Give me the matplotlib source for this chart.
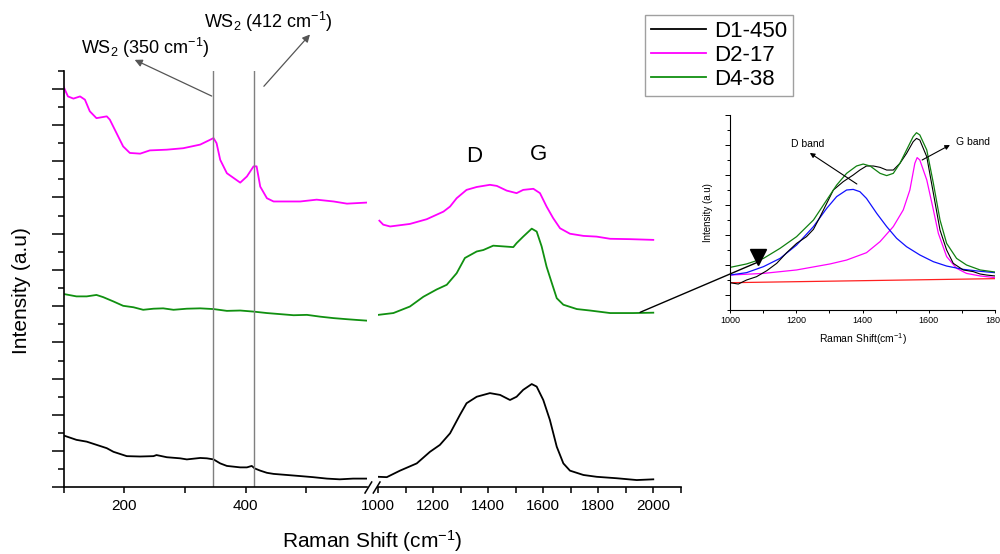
import matplotlib
matplotlib.use("Agg")
import matplotlib.pyplot as plt
from matplotlib.lines import Line2D
from matplotlib.patches import ConnectionPatch
from matplotlib.ticker import MultipleLocator, FixedLocator, NullFormatter

plt.rcParams['font.family'] = ['Liberation Sans', 'DejaVu Sans']
plt.rcParams['mathtext.default'] = 'regular'

# ---------------- data (low-wavenumber segment) ----------------
d1_low_x = [100, 121, 138, 149, 160, 171, 182, 193, 204, 226, 248, 253, 270, 292, 303, 325, 336, 347,
            358, 369, 380, 391, 402, 410, 415, 424, 435, 446, 468, 490, 511, 534, 555, 577, 600]
d1_low_y = [1.43, 1.31, 1.26, 1.20, 1.14, 1.08, 0.98, 0.92, 0.86, 0.85, 0.86, 0.89, 0.83, 0.80, 0.77, 0.81, 0.80, 0.77,
            0.66, 0.59, 0.57, 0.55, 0.55, 0.59, 0.52, 0.46, 0.40, 0.37, 0.34, 0.31, 0.28, 0.24, 0.22, 0.24, 0.24]

d2_low_x = [100, 107, 116, 127, 135, 143, 154, 171, 176, 187, 198, 209, 226, 242, 270, 297, 325, 341, 347,
            352, 358, 369, 380, 391, 402, 413, 418, 424, 435, 446, 490, 517, 545, 567, 600]
d2_low_y = [11.05, 10.79, 10.73, 10.79, 10.70, 10.38, 10.19, 10.24, 10.15, 9.78, 9.41, 9.23, 9.21, 9.30, 9.32,
            9.36, 9.46, 9.59, 9.64, 9.50, 9.04, 8.67, 8.54, 8.41, 8.58, 8.86, 8.86, 8.30, 7.98, 7.89, 7.89, 7.94,
            7.89, 7.83, 7.86]

d4_low_x = [102, 121, 138, 154, 165, 182, 198, 215, 231, 248, 264, 281, 303, 325, 347, 369, 391, 413, 435,
            457, 479, 501, 523, 545, 567, 583, 600]
d4_low_y = [5.33, 5.27, 5.27, 5.31, 5.25, 5.13, 5.01, 4.97, 4.90, 4.93, 4.94, 4.90, 4.93, 4.94, 4.92, 4.87,
            4.88, 4.85, 4.81, 4.78, 4.75, 4.76, 4.71, 4.67, 4.64, 4.62, 4.60]

# ---------------- data (high-wavenumber segment) ----------------
d1_high_x = [1001, 1032, 1080, 1141, 1189, 1225, 1262, 1298, 1322, 1359, 1407, 1444, 1480, 1504, 1528, 1559,
             1577, 1601, 1625, 1650, 1674, 1698, 1747, 1795, 1868, 1941, 2001]
d1_high_y = [0.29, 0.28, 0.46, 0.66, 0.98, 1.17, 1.49, 2.00, 2.32, 2.50, 2.60, 2.55, 2.41, 2.50, 2.69, 2.85,
             2.78, 2.41, 1.86, 1.12, 0.66, 0.46, 0.34, 0.29, 0.25, 0.20, 0.22]

d2_high_x = [1005, 1019, 1044, 1116, 1177, 1238, 1262, 1286, 1322, 1359, 1407, 1432, 1468, 1504, 1528, 1565,
             1589, 1613, 1637, 1662, 1698, 1747, 1795, 1844, 1916, 2001]
d2_high_y = [7.36, 7.25, 7.20, 7.27, 7.40, 7.61, 7.75, 7.98, 8.21, 8.29, 8.35, 8.32, 8.19, 8.12, 8.21, 8.24,
             8.12, 7.75, 7.43, 7.15, 7.00, 6.94, 6.92, 6.86, 6.85, 6.83]

d4_high_x = [1001, 1056, 1116, 1165, 1213, 1250, 1286, 1316, 1359, 1383, 1419, 1456, 1492, 1504, 1528, 1559,
             1577, 1595, 1613, 1632, 1650, 1674, 1723, 1771, 1844, 1928, 2001]
d4_high_y = [4.76, 4.81, 4.99, 5.26, 5.46, 5.59, 5.91, 6.33, 6.51, 6.55, 6.67, 6.65, 6.63, 6.74, 6.92, 7.14,
             7.06, 6.65, 6.09, 5.64, 5.22, 5.04, 4.92, 4.88, 4.81, 4.81, 4.82]

# ---------------- inset data (D4-38 deconvolution) ----------------
ins_raw_x = [1000, 1025, 1050, 1080, 1111, 1141, 1171, 1201, 1231, 1252, 1272, 1292, 1312, 1342, 1372, 1392,
             1412, 1433, 1453, 1473, 1493, 1513, 1533, 1553, 1563, 1573, 1594, 1614, 1634, 1654, 1674, 1704,
             1734, 1755, 1775, 1800]
ins_raw_y = [1.82, 1.73, 2.00, 2.22, 2.62, 3.11, 3.82, 4.44, 4.89, 5.38, 6.22, 7.11, 8.00, 8.56, 9.00, 9.33,
             9.60, 9.60, 9.51, 9.33, 9.33, 9.78, 10.44, 11.22, 11.44, 11.33, 10.22, 7.78, 5.33, 4.00, 3.11, 2.67,
             2.56, 2.40, 2.33, 2.27]

ins_fit_x = [1000, 1050, 1101, 1151, 1201, 1252, 1292, 1322, 1352, 1382, 1402, 1423, 1453, 1473, 1493, 1513,
             1533, 1553, 1563, 1573, 1594, 1614, 1634, 1654, 1684, 1714, 1755, 1800]
ins_fit_y = [2.84, 3.07, 3.44, 4.11, 4.89, 6.00, 7.33, 8.33, 9.11, 9.60, 9.73, 9.60, 9.11, 8.96, 9.11, 9.78,
             10.67, 11.56, 11.82, 11.67, 10.67, 8.44, 6.00, 4.44, 3.44, 3.00, 2.67, 2.53]

ins_dband_x = [1000, 1050, 1101, 1151, 1201, 1252, 1292, 1322, 1352, 1372, 1392, 1412, 1443, 1473, 1503, 1533,
               1573, 1614, 1654, 1704, 1755, 1800]
ins_dband_y = [2.33, 2.49, 2.89, 3.44, 4.33, 5.56, 6.78, 7.56, 8.00, 8.04, 7.89, 7.44, 6.44, 5.56, 4.78, 4.22,
               3.67, 3.22, 2.93, 2.71, 2.58, 2.49]

ins_gband_x = [1000, 1101, 1201, 1302, 1352, 1412, 1453, 1493, 1523, 1543, 1558, 1565, 1573, 1594, 1614, 1629,
               1654, 1684, 1714, 1755, 1800]
ins_gband_y = [2.33, 2.44, 2.67, 3.07, 3.33, 3.82, 4.56, 5.56, 6.67, 8.00, 9.78, 10.16, 10.00, 8.67, 6.67, 5.11,
               3.56, 2.78, 2.44, 2.27, 2.16]

ins_base_x = [1000, 1800]
ins_base_y = [1.82, 2.09]

series_labels = ['D1-450', 'D2-17', 'D4-38']
series_colors = ['black', '#ff00ff', '#109010']
ws2_lines = [346, 413]

# ---------------- figure ----------------
W, H = 1000, 554
fig = plt.figure(figsize=(10, 5.54), dpi=100)

def fx(px):
    return px / W

def fy(py):
    return 1 - py / H

ax_l = fig.add_axes([fx(63.7), fy(487.3), fx(367) - fx(63.7), fy(70.7) - fy(487.3)])
ax_r = fig.add_axes([fx(378), fy(487.3), fx(680.5) - fx(378), fy(70.7) - fy(487.3)])
ax_r.patch.set_alpha(0)

lw = 1.3
ax_l.plot(d1_low_x, d1_low_y, color=series_colors[0], lw=lw)
ax_l.plot(d2_low_x, d2_low_y, color=series_colors[1], lw=lw)
ax_l.plot(d4_low_x, d4_low_y, color=series_colors[2], lw=lw)
h1, = ax_r.plot(d1_high_x, d1_high_y, color=series_colors[0], lw=lw)
h2, = ax_r.plot(d2_high_x, d2_high_y, color=series_colors[1], lw=lw)
h3, = ax_r.plot(d4_high_x, d4_high_y, color=series_colors[2], lw=lw)

for xv in ws2_lines:
    ax_l.axvline(xv, color='#7f7f7f', lw=1.0)

ylim = (0, 11.5)
ax_l.set_xlim(100, 600)
ax_r.set_xlim(1000, 2100)
ax_l.set_ylim(*ylim)
ax_r.set_ylim(*ylim)

for a in (ax_l, ax_r):
    a.spines['top'].set_visible(False)
    a.spines['right'].set_visible(False)
    for s in a.spines.values():
        s.set_linewidth(1.2)
ax_r.spines['left'].set_visible(False)
ax_r.tick_params(axis='y', left=False, labelleft=False)

ax_l.xaxis.set_major_locator(FixedLocator([200, 400]))
ax_l.xaxis.set_minor_locator(FixedLocator([100, 300, 500]))
ax_r.xaxis.set_major_locator(MultipleLocator(200))
ax_r.xaxis.set_minor_locator(MultipleLocator(100))
ax_l.yaxis.set_major_locator(MultipleLocator(1))
ax_l.yaxis.set_minor_locator(MultipleLocator(0.5))
ax_l.yaxis.set_major_formatter(NullFormatter())

for a in (ax_l, ax_r):
    a.tick_params(axis='x', which='both', direction='out', length=4.5, width=1.1, labelsize=11, pad=4)
ax_l.tick_params(axis='y', which='major', direction='out', length=8.5, width=1.1)
ax_l.tick_params(axis='y', which='minor', direction='out', length=4.3, width=1.1)

# axis break marks
for x0, x1 in [(365, 371.7), (373.3, 380)]:
    fig.add_artist(Line2D([fx(x0), fx(x1)], [fy(493), fy(482)], color='black', lw=1.1,
                          transform=fig.transFigure))

fig.text(fx(372), fy(541), 'Raman Shift (cm$^{-1}$)', ha='center', va='center', fontsize=15)
fig.text(fx(22), fy(291), 'Intensity (a.u)', ha='center', va='center', rotation=90, fontsize=15)

ax_r.text(1349, 9.12, 'D', ha='center', va='center', fontsize=16)
ax_r.text(1585, 9.18, 'G', ha='center', va='center', fontsize=16)

# WS2 annotations
arrow_kw = dict(arrowstyle='-|>', color='#555555', lw=0.9, shrinkA=0, shrinkB=0, mutation_scale=11)
ax_l.annotate('', xy=(217, 11.8), xytext=(344, 10.8), arrowprops=arrow_kw, annotation_clip=False)
ax_l.annotate('', xy=(506, 12.5), xytext=(430, 11.07), arrowprops=arrow_kw, annotation_clip=False)
ax_l.text(234, 12.12, 'WS$_2$ (350 cm$^{-1}$)', ha='center', va='center', fontsize=13, clip_on=False)
ax_l.text(437, 12.85, 'WS$_2$ (412 cm$^{-1}$)', ha='center', va='center', fontsize=13, clip_on=False)

# legend
leg = fig.legend([h1, h2, h3], series_labels, loc='upper left', bbox_to_anchor=(fx(645), fy(15)),
                 fontsize=16, frameon=True, fancybox=False, edgecolor='#888888', handlelength=2.5,
                 handletextpad=0.35, labelspacing=0.15, borderpad=0.25, borderaxespad=0)
leg.get_frame().set_linewidth(1.0)

# ---------------- inset ----------------
ax_i = fig.add_axes([fx(730), fy(310), fx(995) - fx(730), fy(115) - fy(310)])
ax_i.patch.set_alpha(0)
ax_i.plot(ins_base_x, ins_base_y, color='#ff2020', lw=0.9)
ax_i.plot(ins_gband_x, ins_gband_y, color='#ff00ff', lw=0.9)
ax_i.plot(ins_dband_x, ins_dband_y, color='#1010ff', lw=0.9)
ax_i.plot(ins_raw_x, ins_raw_y, color='black', lw=0.8)
ax_i.plot(ins_fit_x, ins_fit_y, color='#108010', lw=0.9)
ax_i.set_xlim(1000, 1800)
ax_i.set_ylim(0, 13)
ax_i.spines['top'].set_visible(False)
ax_i.spines['right'].set_visible(False)
for s in ax_i.spines.values():
    s.set_linewidth(0.8)
ax_i.xaxis.set_major_locator(MultipleLocator(200))
ax_i.xaxis.set_minor_locator(MultipleLocator(100))
ax_i.yaxis.set_major_locator(MultipleLocator(2, offset=1))
ax_i.yaxis.set_minor_locator(MultipleLocator(1))
ax_i.yaxis.set_major_formatter(NullFormatter())
ax_i.tick_params(axis='x', which='both', direction='out', length=2.5, width=0.7, labelsize=6.5, pad=2)
ax_i.tick_params(axis='y', which='major', direction='out', length=3.5, width=0.7)
ax_i.tick_params(axis='y', which='minor', direction='out', length=2, width=0.7)
ax_i.set_xlabel('Raman Shift(cm$^{-1}$)', fontsize=7.5, labelpad=4)
ax_i.set_ylabel('Intensity (a.u)', fontsize=7, labelpad=5)

ins_arrow = dict(arrowstyle='-|>', color='black', lw=0.8, shrinkA=0, shrinkB=0, mutation_scale=7)
ax_i.annotate('', xy=(1241, 10.47), xytext=(1383, 8.4), arrowprops=ins_arrow)
ax_i.annotate('', xy=(1664, 11.0), xytext=(1580, 10.0), arrowprops=ins_arrow)
ax_i.text(1236, 11.05, 'D band', ha='center', va='center', fontsize=7.5)
ax_i.text(1734, 11.2, 'G band', ha='center', va='center', fontsize=7.5)

# pointer from D4-38 curve to inset
ax_i.plot([1085], [3.55], marker='v', markersize=11, color='black', clip_on=False)
con = ConnectionPatch(xyA=(1953, 4.83), coordsA=ax_r.transData,
                      xyB=(1085, 3.2), coordsB=ax_i.transData, color='black', lw=1.0)
fig.add_artist(con)

fig.savefig('out.png', dpi=100)
